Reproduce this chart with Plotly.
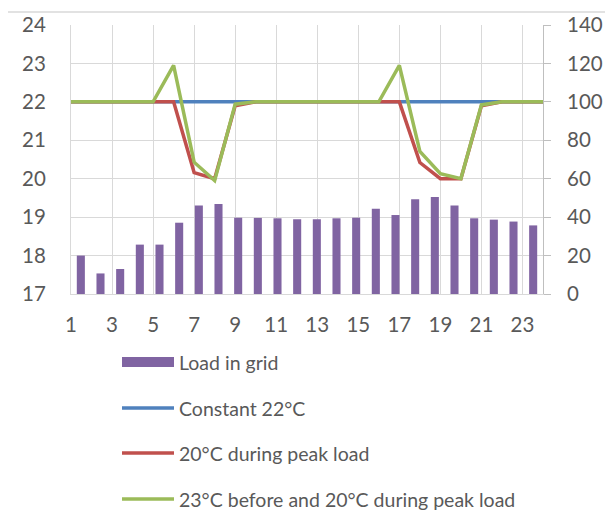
import plotly.graph_objects as go

hours = list(range(1, 25))
load = [20, 10.7, 13, 25.7, 25.7, 37.1, 46.1, 46.9, 39.7, 39.6, 39.4, 38.9,
        38.9, 39.4, 39.7, 44.4, 41.1, 49.3, 50.5, 46.0, 39.4, 38.7, 37.7, 35.7]
const22 = [22] * 24
peak20 = [22, 22, 22, 22, 22, 22, 20.16, 20.0, 21.9, 22, 22, 22,
          22, 22, 22, 22, 22, 20.42, 20.0, 20.0, 21.9, 22, 22, 22]
pre23 = [22, 22, 22, 22, 22, 22.95, 20.43, 19.95, 21.94, 22, 22, 22,
         22, 22, 22, 22, 22.95, 20.71, 20.13, 20.0, 21.92, 22, 22, 22]
names = ["Load in grid", "Constant 22°C", "20°C during peak load",
         "23°C before and 20°C during peak load"]
colors = ["#8064A2", "#4F81BD", "#C0504D", "#9BBB59"]
x_ticks = list(range(1, 24, 2))

FONT = "Lato"
GRAY = "#595959"
GRID = "#D9D9D9"

# page body has an 8px margin: figure origin is at (8, 8)
OFF = 8
W, H = 613 - OFF, 531 - OFF
PL, PR, PT, PB = 71 - OFF, 543 - OFF, 25 - OFF, 294 - OFF
plot_w = PR - PL
plot_h = PB - PT

fig = go.Figure()
fig.add_trace(go.Bar(x=hours, y=load, name=names[0], marker_color=colors[0],
                     marker_line_width=0, width=0.41, xaxis="x2", yaxis="y2",
                     showlegend=False))
for ys, nm, c in zip([const22, peak20, pre23], names[1:], colors[1:]):
    fig.add_trace(go.Scatter(x=hours, y=ys, name=nm, mode="lines",
                             line=dict(color=c, width=3.5), xaxis="x", yaxis="y",
                             showlegend=False))

fig.update_layout(
    width=W, height=H,
    margin=dict(l=PL, r=W - PR, t=PT, b=H - PB, autoexpand=False),
    paper_bgcolor="white", plot_bgcolor="white",
    font=dict(family=FONT, size=20.5, color=GRAY),
    xaxis=dict(range=[1, 24], tickmode="array", tickvals=x_ticks,
               ticktext=[str(v) for v in x_ticks], showgrid=True,
               gridcolor=GRID, gridwidth=1, showline=True, linecolor=GRID,
               linewidth=1, zeroline=False, ticks="", ticklabelstandoff=12),
    xaxis2=dict(range=[0.5, 24.5], overlaying="x", visible=False),
    yaxis=dict(range=[17, 24], dtick=1, showgrid=True, gridcolor=GRID,
               gridwidth=1, showline=True, linecolor=GRID, linewidth=1,
               zeroline=False, ticks="", ticklabelstandoff=20),
    yaxis2=dict(range=[0, 140], dtick=20, overlaying="y", side="right",
                showgrid=False, showline=True, linecolor="#BFBFBF", linewidth=1,
                zeroline=False, ticks="outside", ticklen=7, tickcolor="#BFBFBF",
                ticklabelstandoff=12),
)

# outer chart border
fig.add_shape(type="rect", xref="paper", yref="paper",
              x0=(7 - 71) / plot_w, x1=1.3, y0=-1.5, y1=1 + 13 / plot_h,
              line=dict(color=GRID, width=1.5), layer="below")

# manual legend
leg_y = [362, 408, 453, 499]
for i, (nm, c) in enumerate(zip(names, colors)):
    yp = 1 - (leg_y[i] - 25) / plot_h
    x0 = (122 - 71) / plot_w
    x1 = (174 - 71) / plot_w
    if i == 0:
        fig.add_shape(type="rect", xref="paper", yref="paper",
                      x0=x0, x1=x1, y0=yp - 5 / plot_h, y1=yp + 5 / plot_h,
                      fillcolor=c, line=dict(width=0))
    else:
        fig.add_shape(type="line", xref="paper", yref="paper",
                      x0=x0, x1=x1, y0=yp, y1=yp,
                      line=dict(color=c, width=3.5))
    fig.add_annotation(text=nm, xref="paper", yref="paper",
                       x=(177 - 71) / plot_w, y=yp, xanchor="left", yanchor="middle",
                       showarrow=False, font=dict(family=FONT, size=19.5, color=GRAY))

fig.write_html("out.html")
